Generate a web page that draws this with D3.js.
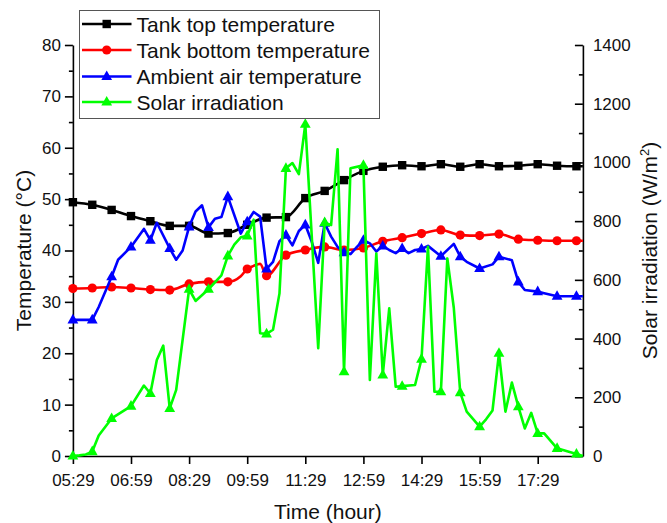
<!DOCTYPE html>
<html><head><meta charset="utf-8">
<script src="https://cdn.jsdelivr.net/npm/d3@7"></script>
<style>
html,body{margin:0;padding:0;background:#fff;}
svg{display:block;font-family:"Liberation Sans",Arial,sans-serif;}
</style></head>
<body>
<svg id="chart" width="667" height="523"></svg>
<script>
// ---- data ----
const xTickLabels = ["05:29","06:59","08:29","09:59","11:29","12:59","14:29","15:59","17:29"];
const xDomain = ["05:29","18:39"];

const topTimes = ["05:29","05:59","06:29","06:59","07:29","07:59","08:29","08:59","09:29","09:59","10:29","10:59","11:29","11:59","12:29","12:59","13:29","13:59","14:29","14:59","15:29","15:59","16:29","16:59","17:29","17:59","18:29","18:39"];
const topValues = [49.4,48.9,47.9,46.7,45.7,44.8,44.8,43.3,43.4,45.0,46.4,46.5,50.2,51.6,53.7,55.5,56.3,56.6,56.4,56.8,56.3,56.8,56.4,56.5,56.8,56.5,56.4,56.4];

const bottomTimes = ["05:29","05:59","06:29","06:59","07:29","07:59","08:29","08:59","09:29","09:49","09:59","10:09","10:19","10:29","10:59","11:29","11:59","12:29","12:59","13:29","13:59","14:29","14:59","15:29","15:59","16:29","16:59","17:29","17:59","18:29","18:39"];
const bottomValues = [32.6,32.7,32.9,32.7,32.4,32.3,33.5,33.9,33.9,35.0,36.4,37.0,37.4,35.1,39.1,40.1,40.7,40.1,40.5,41.8,42.5,43.3,44.0,43.0,42.9,43.2,42.2,42.0,41.9,41.9,41.9];

const ambientTimes = ["05:29","05:59","06:09","06:29","06:39","06:59","07:19","07:29","07:39","07:59","08:09","08:19","08:29","08:39","08:49","08:59","09:09","09:19","09:29","09:49","09:59","10:09","10:19","10:29","10:39","10:49","10:59","11:09","11:19","11:29","11:39","11:49","11:59","12:09","12:19","12:29","12:39","12:49","12:59","13:09","13:19","13:29","13:39","13:49","13:59","14:09","14:19","14:29","14:39","14:59","15:19","15:29","15:39","15:59","16:19","16:29","16:49","16:59","17:09","17:29","17:39","17:59","18:29","18:39"];
const ambientValues = [26.5,26.5,29.0,34.9,38.2,40.7,44.2,42.0,45.4,40.4,38.2,40.0,44.6,47.6,48.8,44.5,46.2,46.5,50.5,43.3,45.6,47.5,46.6,36.4,37.8,41.8,43.0,41.0,43.8,45.0,41.7,37.6,45.3,42.7,40.7,39.6,39.3,40.7,42.0,41.4,39.8,40.9,40.1,39.5,40.4,39.5,40.1,40.3,40.9,38.9,41.3,38.8,37.8,36.5,37.3,38.8,38.1,33.9,32.3,32.0,31.7,31.1,31.1,31.1];

const solarTimes = ["05:29","05:39","05:49","05:59","06:09","06:29","06:59","07:19","07:29","07:39","07:49","07:59","08:09","08:29","08:39","08:59","09:19","09:29","09:39","09:49","09:59","10:09","10:19","10:29","10:39","10:49","10:59","11:09","11:19","11:29","11:49","11:59","12:09","12:19","12:29","12:39","12:59","13:09","13:19","13:29","13:39","13:49","13:59","14:19","14:29","14:39","14:49","14:59","15:09","15:19","15:29","15:39","15:59","16:09","16:19","16:29","16:39","16:49","16:59","17:09","17:19","17:29","17:39","17:59","18:29","18:39"];
const solarValues = [0,2,5,15,70,128,170,240,213,327,376,162,225,568,528,568,615,682,720,745,750,805,418,416,430,554,980,998,960,1130,367,795,787,1045,287,980,990,259,690,276,503,236,238,242,330,713,219,219,673,505,216,151,100,125,155,350,151,250,168,94,147,77,77,26,7,0];

const legendLabels = ["Tank top temperature","Tank bottom temperature","Ambient air temperature","Solar irradiation"];
const tempTicks = [0,10,20,30,40,50,60,70,80];
const solarTicks = [0,200,400,600,800,1000,1200,1400];

// ---- helpers ----
const toMin = s => { const [h,m] = s.split(":").map(Number); return h*60+m; };
const svg = d3.select("#chart");
const M = {l:72.9, r:582.9, t:45, b:456};

const x = d3.scaleLinear().domain(xDomain.map(toMin)).range([M.l, M.r]);
const yT = d3.scaleLinear().domain([0,80]).range([M.b, M.t]);
const yS = d3.scaleLinear().domain([0,1400]).range([M.b, M.t]);

const fmt = m => { const h = Math.floor(m/60), mm = m%60; return String(h).padStart(2,"0")+":"+String(mm).padStart(2,"0"); };

// ---- axes ----
const axisStyle = g => {
  g.selectAll("path.domain").attr("stroke","#000").attr("stroke-width",1.6);
  g.selectAll(".tick line").attr("stroke","#000").attr("stroke-width",1.6);
  g.selectAll(".tick text").attr("font-size",17).attr("fill","#111").attr("font-family","'Liberation Sans',Arial,sans-serif");
};

// minor ticks
svg.append("g").attr("transform",`translate(${M.l},0)`)
  .call(d3.axisLeft(yT).tickValues(d3.range(5,80,10)).tickSize(4).tickSizeOuter(0).tickFormat(""))
  .call(axisStyle).call(g=>g.select(".domain").remove());
svg.append("g").attr("transform",`translate(${M.r},0)`)
  .call(d3.axisRight(yS).tickValues(d3.range(100,1400,200)).tickSize(-4).tickSizeOuter(0).tickFormat(""))
  .call(axisStyle).call(g=>g.select(".domain").remove());

svg.append("g").attr("transform",`translate(${M.l},0)`)
  .call(d3.axisLeft(yT).tickValues(tempTicks).tickFormat(d3.format("d")).tickSize(8).tickPadding(4).tickSizeOuter(0))
  .call(axisStyle);
svg.append("g").attr("transform",`translate(${M.r},0)`)
  .call(d3.axisRight(yS).tickValues(solarTicks).tickFormat(d3.format("d")).tickSize(-8).tickPadding(10).tickSizeOuter(0))
  .call(axisStyle);
svg.append("g").attr("transform",`translate(0,${M.b})`)
  .call(d3.axisBottom(x).tickValues(xTickLabels.map(toMin)).tickFormat(fmt).tickSize(8).tickPadding(10).tickSizeOuter(0))
  .call(axisStyle);

// ---- titles ----
svg.append("text").attr("x",(M.l+M.r)/2).attr("y",519).attr("text-anchor","middle")
  .attr("font-size",21).attr("fill","#111").text("Time (hour)");
svg.append("text").attr("transform",`translate(31,${(M.t+M.b)/2}) rotate(-90)`).attr("text-anchor","middle")
  .attr("font-size",21).attr("fill","#111").text("Temperature (°C)");
const rt = svg.append("text").attr("transform",`translate(657,${(M.t+M.b)/2}) rotate(-90)`).attr("text-anchor","middle")
  .attr("font-size",21).attr("fill","#111");
rt.append("tspan").text("Solar irradiation (W/m");
rt.append("tspan").attr("font-size",13).attr("dy",-8).text("2");
rt.append("tspan").attr("dy",8).text(")");

// ---- markers ----
const sq = "M-4.2,-4.2H4.2V4.2H-4.2Z";
const circ = "M4.6,0A4.6,4.6 0 1 1 -4.6,0A4.6,4.6 0 1 1 4.6,0Z";
const tri = "M0,-6L5.4,3.6H-5.4Z";

const series = [
  {times: topTimes, vals: topValues, y: yT, color:"#000000", shape: sq, curve: d3.curveMonotoneX},
  {times: bottomTimes, vals: bottomValues, y: yT, color:"#ff0000", shape: circ, curve: d3.curveMonotoneX},
  {times: ambientTimes, vals: ambientValues, y: yT, color:"#0000ff", shape: tri, curve: d3.curveLinear},
  {times: solarTimes, vals: solarValues, y: yS, color:"#00ff00", shape: tri, curve: d3.curveLinear}
];
const start = toMin(xDomain[0]);

series.forEach(s => {
  const pts = s.times.map((t,i) => ({m: toMin(t), v: s.vals[i]}));
  const line = d3.line().x(d => x(d.m)).y(d => s.y(d.v)).curve(s.curve);
  svg.append("path").datum(pts).attr("d", line).attr("fill","none")
    .attr("stroke", s.color).attr("stroke-width", 2.6).attr("stroke-linejoin","round");
  svg.append("g").selectAll("path").data(pts.filter(d => (d.m - start) % 30 === 0 && d.m <= toMin("18:29")))
    .join("path").attr("d", s.shape)
    .attr("transform", d => `translate(${x(d.m)},${s.y(d.v)})`)
    .attr("fill", s.color);
});

// ---- legend ----
const lg = svg.append("g");
lg.append("rect").attr("x",79.5).attr("y",10.5).attr("width",300).attr("height",108)
  .attr("fill","#fff").attr("stroke","#555").attr("stroke-width",1);
const rowY = [24, 50, 76.5, 102];
series.forEach((s,i) => {
  lg.append("line").attr("x1",82).attr("x2",131.5).attr("y1",rowY[i]).attr("y2",rowY[i])
    .attr("stroke",s.color).attr("stroke-width",2.6);
  lg.append("path").attr("d",s.shape).attr("transform",`translate(106.7,${rowY[i]})`).attr("fill",s.color);
  lg.append("text").attr("x",136.5).attr("y",rowY[i]+7.5).attr("font-size",21).attr("fill","#111").text(legendLabels[i]);
});
</script>
</body></html>
